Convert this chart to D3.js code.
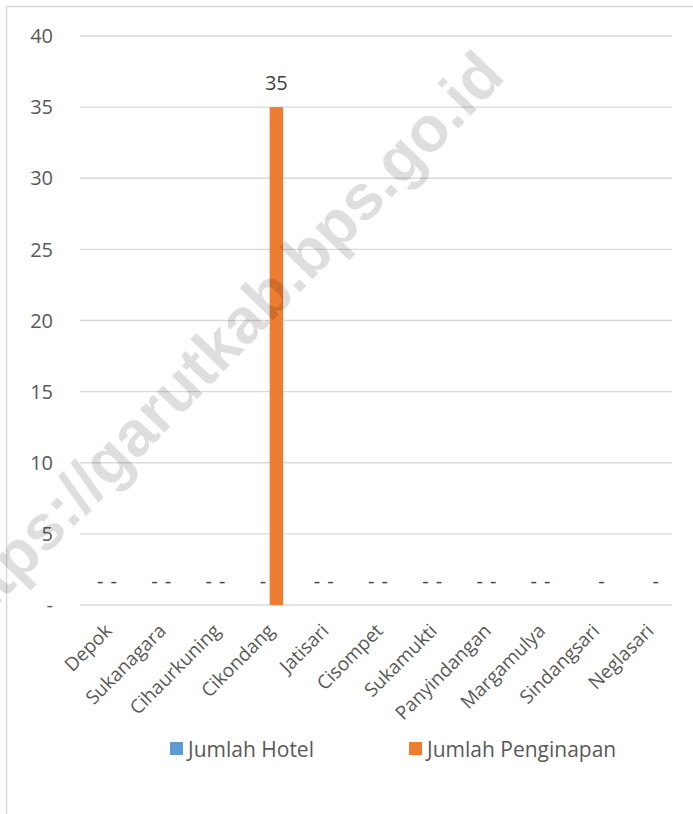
<!DOCTYPE html>
<html>
<head>
<meta charset="utf-8">
<script src="https://cdn.jsdelivr.net/npm/d3@7"></script>
<style>
  body { margin: 0; background: #fff; }
  svg { display: block; font-family: "Open Sans", "Noto Sans", sans-serif; }
</style>
</head>
<body>
<svg id="chart"></svg>
<script>
const categories = ["Depok", "Sukanagara", "Cihaurkuning", "Cikondang", "Jatisari", "Cisompet",
  "Sukamukti", "Panyindangan", "Margamulya", "Sindangsari", "Neglasari"];
const hotel = [0, 0, 0, 0, 0, 0, 0, 0, 0, null, null];
const penginapan = [0, 0, 0, 35, 0, 0, 0, 0, 0, 0, 0];
const seriesNames = ["Jumlah Hotel", "Jumlah Penginapan"];
const yTicks = [0, 5, 10, 15, 20, 25, 30, 35, 40];

const W = 693, H = 814;
const colors = ["#5b9bd5", "#ed7d31"];
const textColor = "#595959";

const svg = d3.select("#chart").attr("width", W).attr("height", H);

// outer chart border
svg.append("rect")
  .attr("x", 6.5).attr("y", 6.5)
  .attr("width", W + 10).attr("height", H + 10)
  .attr("fill", "none").attr("stroke", "#d9d9d9").attr("stroke-width", 1.5);

const plot = { left: 80, right: 676, top: 36, bottom: 605 };

const x = d3.scaleBand().domain(categories).range([plot.left, plot.right]);
const y = d3.scaleLinear().domain([0, 40]).range([plot.bottom, plot.top]);
const barW = 13.5;

// gridlines
svg.append("g")
  .selectAll("line")
  .data(yTicks)
  .enter().append("line")
  .attr("x1", plot.left).attr("x2", 672)
  .attr("y1", d => y(d)).attr("y2", d => y(d))
  .attr("stroke", "#d9d9d9").attr("stroke-width", 1.3);

// y labels
svg.append("g")
  .selectAll("text")
  .data(yTicks)
  .enter().append("text")
  .attr("x", 53).attr("y", d => y(d))
  .attr("dy", "0.36em")
  .attr("text-anchor", "end")
  .attr("font-size", 20)
  .attr("fill", textColor)
  .text(d => d === 0 ? "-" : d);

// bars + labels
const series = [hotel, penginapan];
series.forEach((vals, si) => {
  const g = svg.append("g");
  const data = vals.map((v, i) => ({ cat: categories[i], v }));
  const cx = d => x(d.cat) + x.bandwidth() / 2 + (si === 0 ? -barW / 2 : barW / 2);

  g.selectAll("rect")
    .data(data.filter(d => d.v > 0))
    .enter().append("rect")
    .attr("x", d => cx(d) - barW / 2)
    .attr("y", d => y(d.v))
    .attr("width", barW)
    .attr("height", d => y(0) - y(d.v))
    .attr("fill", colors[si]);

  g.selectAll("text")
    .data(data.filter(d => d.v !== null))
    .enter().append("text")
    .attr("x", cx)
    .attr("y", d => d.v > 0 ? y(d.v) - 17 : y(0) - 17)
    .attr("text-anchor", "middle")
    .attr("font-size", 20)
    .attr("fill", "#404040")
    .text(d => d.v > 0 ? d.v : "-");
});

// x labels, rotated
svg.append("g")
  .selectAll("text")
  .data(categories)
  .enter().append("text")
  .attr("transform", d => `translate(${x(d) + x.bandwidth() / 2 + 6},${plot.bottom + 27}) rotate(-45)`)
  .attr("text-anchor", "end")
  .attr("font-size", 19)
  .attr("fill", textColor)
  .text(d => d);

// legend
const legend = svg.append("g");
const legendX = [170, 409];
seriesNames.forEach((name, i) => {
  legend.append("rect")
    .attr("x", legendX[i]).attr("y", 742)
    .attr("width", 13).attr("height", 13)
    .attr("fill", colors[i]);
  legend.append("text")
    .attr("x", legendX[i] + 18).attr("y", 757)
    .attr("font-size", 21)
    .attr("fill", textColor)
    .text(name);
});

// watermark
svg.append("text")
  .attr("transform", "translate(507,78) rotate(-46)")
  .attr("text-anchor", "end")
  .attr("font-family", "Liberation Sans, Arial, sans-serif")
  .attr("font-weight", "bold")
  .attr("font-size", 64)
  .attr("fill", "#000")
  .attr("fill-opacity", 0.13)
  .text("https://garutkab.bps.go.id");
</script>
</body>
</html>
